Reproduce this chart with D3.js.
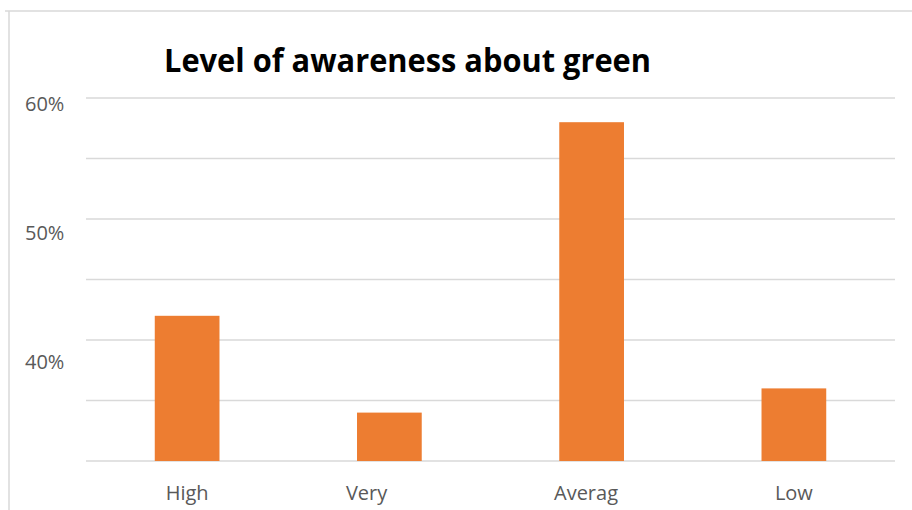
<!DOCTYPE html>
<html>
<head>
<meta charset="utf-8">
<script src="https://cdn.jsdelivr.net/npm/d3@7"></script>
<style>
  body { margin: 0; background: #fff; }
  svg { display: block; }
</style>
</head>
<body>
<div id="chart"></div>
<script>
const width = 912,
  height = 510;

// data
const categories = ["High", "Very high", "Average", "Low"];
const shownLabels = ["High", "Very", "Averag", "Low"];
const values = [42, 34, 58, 36];
const gridValues = [30, 35, 40, 45, 50, 55, 60];
const tickLabels = [40, 50, 60];

const svg = d3.select("#chart").append("svg").attr("width", width).attr("height", height);

// chart frame (only top and left edges are visible)
svg.append("path")
  .attr("d", "M5,11H912M9,11V510")
  .attr("fill", "none")
  .attr("stroke", "#d9d9d9")
  .attr("stroke-width", 1.5);

const x = d3.scaleBand().domain(categories).range([86, 895]).paddingInner(0.68).paddingOuter(0.34);
const y = d3.scaleLinear().domain([30, 60]).range([461, 98]);
// the tick labels sit slightly off their gridlines in the original
const yLabel = d3.scaleLinear().domain([40, 60]).range([368.5, 110.5]);

svg.append("g")
  .selectAll("line")
  .data(gridValues)
  .join("line")
  .attr("x1", 86)
  .attr("x2", 895)
  .attr("y1", d => y(d))
  .attr("y2", d => y(d))
  .attr("stroke", "#d9d9d9")
  .attr("stroke-width", 1.5);

svg.append("g")
  .selectAll("text")
  .data(tickLabels)
  .join("text")
  .attr("x", 25)
  .attr("y", d => yLabel(d))
  .attr("font-family", "'Open Sans', sans-serif")
  .attr("font-size", 20)
  .attr("fill", "#595959")
  .text(d => d + "%");

svg.append("g")
  .selectAll("rect")
  .data(values)
  .join("rect")
  .attr("x", (d, i) => x(categories[i]))
  .attr("width", x.bandwidth())
  .attr("y", d => y(d))
  .attr("height", d => y(30) - y(d))
  .attr("fill", "#ED7D31");

// category labels: positioned as if the full name were centred, then cut short
const labelG = svg.append("g")
  .attr("font-family", "'Open Sans', sans-serif")
  .attr("font-size", 20)
  .attr("fill", "#595959");

categories.forEach((c, i) => {
  const t = labelG.append("text").attr("y", 500).text(c);
  const full = t.node().getComputedTextLength();
  t.attr("x", x(c) + x.bandwidth() / 2 - full / 2).text(shownLabels[i]);
});

svg.append("text")
  .attr("x", 164)
  .attr("y", 72)
  .attr("font-family", "'Liberation Sans Narrow', 'Open Sans', sans-serif")
  .attr("font-weight", "bold")
  .attr("font-size", 33)
  .attr("fill", "#000")
  .attr("textLength", 487)
  .attr("lengthAdjust", "spacingAndGlyphs")
  .text("Level of awareness about green");
</script>
</body>
</html>
